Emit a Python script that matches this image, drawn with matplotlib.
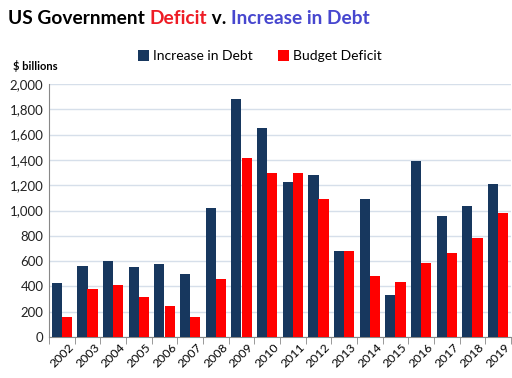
import matplotlib
matplotlib.use("Agg")
import matplotlib.pyplot as plt
import numpy as np
from matplotlib.ticker import FuncFormatter, FixedLocator

years = [str(y) for y in range(2002, 2020)]
increase_in_debt = [426, 561, 600, 553, 576, 501, 1017, 1885, 1652, 1229, 1277, 677, 1087, 330, 1390, 953, 1032, 1206]
budget_deficit = [158, 379, 411, 318, 248, 160, 458, 1413, 1294, 1300, 1087, 680, 483, 437, 586, 665, 779, 984]

FONT = ["Lato", "DejaVu Sans"]
plt.rcParams["font.family"] = FONT

W, H = 512, 378
fig = plt.figure(figsize=(W / 100, H / 100), dpi=100)
ax = fig.add_axes([49 / W, 1 - 337 / H, (511 - 49) / W, (337 - 84) / H])

x = np.arange(len(years))
bw = 0.4
ax.bar(x - bw / 2, increase_in_debt, bw, color="#17375E", label="Increase in Debt", zorder=3)
ax.bar(x + bw / 2, budget_deficit, bw, color="#FF0000", label="Budget Deficit", zorder=3)

ax.set_xlim(-0.5, len(years) - 0.5)
ax.set_ylim(0, 2000)
ax.set_yticks(range(0, 2001, 200))
ax.yaxis.set_major_formatter(FuncFormatter(lambda v, p: f"{int(v):,}"))
ax.yaxis.grid(True, color="#D6DFEA", linewidth=1, zorder=0)
ax.tick_params(axis="y", length=0, labelsize=9.5, pad=4, labelcolor="#222222")

ax.set_xticks(x)
ax.set_xticklabels(years, rotation=45, ha="center", fontsize=8.8)
ax.tick_params(axis="x", length=0, pad=3)
ax.xaxis.set_minor_locator(FixedLocator(np.arange(-0.5, len(years), 1.0)))
ax.tick_params(axis="x", which="minor", length=5, color="#888888", direction="out")

for s in ["top", "right"]:
    ax.spines[s].set_visible(False)
ax.spines["left"].set_color("#888888")
ax.spines["bottom"].set_color("#888888")

fig.legend(loc="center", bbox_to_anchor=(260 / W, 1 - 56 / H), ncol=2, frameon=False,
           fontsize=10, handlelength=0.8, handleheight=0.8, columnspacing=1.8, handletextpad=0.3)

fig.text(13 / W, 1 - 66 / H, "$ billions", fontsize=8, fontweight="bold", va="center", ha="left")

# Multi-colored title
parts = [("US Government ", "black"), ("Deficit", "#EE1C25"), (" v. ", "black"), ("Increase in Debt", "#4747CF")]
fig.canvas.draw()
r = fig.canvas.get_renderer()
xpos = 8
for txt, col in parts:
    t = fig.text(xpos / W, 1 - 19 / H, txt, fontsize=13.8, fontweight="bold", color=col, va="center", ha="left")
    bb = t.get_window_extent(renderer=r)
    xpos += bb.width

fig.savefig("out.png", dpi=100)
